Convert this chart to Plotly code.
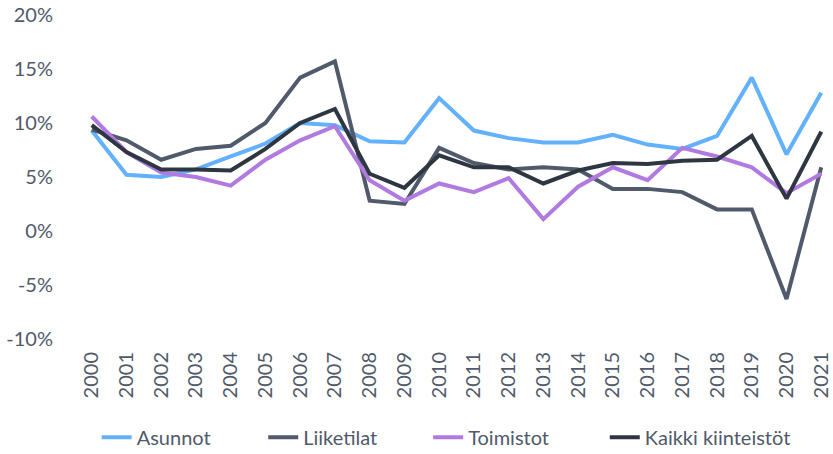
import plotly.graph_objects as go

years = list(range(2000, 2022))

asunnot = [9.3, 5.2, 5.0, 5.7, 6.9, 8.1, 10.0, 9.8, 8.3, 8.2, 12.3, 9.3,
           8.6, 8.2, 8.2, 8.9, 8.0, 7.6, 8.8, 14.2, 7.1, 12.8]
liiketilat = [9.4, 8.4, 6.6, 7.6, 7.9, 10.0, 14.2, 15.7, 2.8, 2.5, 7.7, 6.3,
              5.7, 5.9, 5.7, 3.9, 3.9, 3.6, 2.0, 2.0, -6.3, 5.9]
toimistot = [10.6, 7.3, 5.4, 5.0, 4.2, 6.6, 8.4, 9.7, 4.7, 2.8, 4.4, 3.6,
             4.9, 1.1, 4.1, 5.9, 4.7, 7.7, 6.9, 5.9, 3.5, 5.3]
kaikki = [9.8, 7.3, 5.7, 5.7, 5.6, 7.6, 10.0, 11.3, 5.3, 4.0, 7.0, 5.9,
          5.9, 4.4, 5.6, 6.3, 6.2, 6.5, 6.6, 8.8, 3.0, 9.2]

y_ticks = [-10, -5, 0, 5, 10, 15, 20]
y_tick_labels = [f"{v}%" for v in y_ticks]

# nimi, arvot, väri
series = [
    ("Asunnot", asunnot, "#63b1fb"),
    ("Liiketilat", liiketilat, "#505a6b"),
    ("Toimistot", toimistot, "#b07ae0"),
    ("Kaikki kiinteistöt", kaikki, "#2e3741"),
]
# jokaiselle sarjalle oma legenda, jotta välit vastaavat alkuperäistä
legend_x = [0.116, 0.316, 0.514, 0.726]

text_color = "#505a6a"

fig = go.Figure()

legends = {}
for i, (name, values, color) in enumerate(series):
    leg = "legend" if i == 0 else f"legend{i + 1}"
    fig.add_trace(go.Scatter(
        x=years,
        y=values,
        mode="lines",
        name=name,
        legend=leg,
        line=dict(color=color, width=4),
    ))
    legends[leg] = dict(
        orientation="h",
        xref="container",
        yref="container",
        x=legend_x[i],
        xanchor="left",
        y=0.037,
        yanchor="middle",
        bgcolor="rgba(0,0,0,0)",
        font=dict(size=20, color=text_color),
    )

fig.update_layout(
    width=833,
    height=454,
    margin=dict(l=90, r=10, t=15, b=115),
    paper_bgcolor="white",
    plot_bgcolor="white",
    font=dict(family="Lato", size=20, color=text_color),
    showlegend=True,
    **legends,
)

fig.update_xaxes(
    range=[1999.95, 2021.05],
    tickmode="array",
    tickvals=years,
    ticktext=[str(y) for y in years],
    tickangle=-90,
    showgrid=False,
    zeroline=False,
    showline=False,
    automargin=False,
    ticklabelstandoff=8,
)

fig.update_yaxes(
    range=[-10, 20],
    tickmode="array",
    tickvals=y_ticks,
    ticktext=y_tick_labels,
    showgrid=False,
    zeroline=False,
    showline=False,
    automargin=False,
    ticklabelstandoff=36,
)

# sivun oletusmarginaali pois, jotta kuva alkaa vasemmasta yläkulmasta
fig.write_html(
    "out.html",
    config={"displayModeBar": False},
    post_script="document.body.style.margin='0';",
)
